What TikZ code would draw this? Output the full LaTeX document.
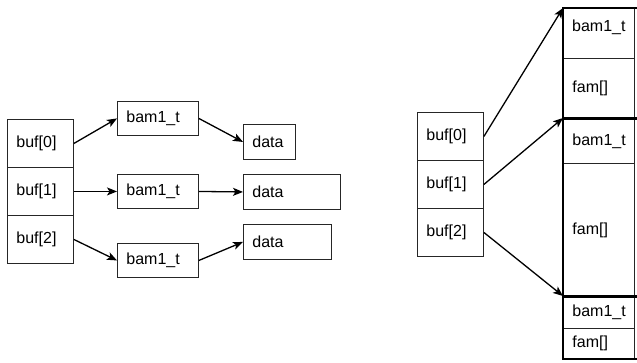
\documentclass[tikz,border=0pt]{standalone}
\usepackage{fontspec}
\setmainfont{Liberation Sans}
\usetikzlibrary{arrows.meta}
\begin{document}
\begin{tikzpicture}[x=1pt,y=-1pt,
  cell/.style={draw=black!85, line width=0.9pt, anchor=north west,
    inner xsep=9pt, inner ysep=0pt, align=left,
    font=\fontsize{16}{18}\selectfont},
  txt/.style={anchor=west, inner sep=0pt, font=\fontsize{16}{18}\selectfont},
  structbox/.style={draw=black, line width=2.6pt},
  arr/.style={line width=1.3pt, -{Stealth[length=10pt,width=8pt,inset=2.5pt]}}]
\useasboundingbox (0,0) rectangle (637,362);

% left: array of pointers, each to its own bam1_t and data block
\node[cell, text width=48pt, minimum height=48pt] (b0) at (7,119) {buf[0]};
\node[cell, text width=48pt, minimum height=48pt] (b1) at (7,167) {buf[1]};
\node[cell, text width=48pt, minimum height=48pt] (b2) at (7,215) {buf[2]};

\node[cell, text width=63pt, minimum height=34pt] (t0) at (117,101) {bam1\_t};
\node[cell, text width=63pt, minimum height=34pt] (t1) at (117,174) {bam1\_t};
\node[cell, text width=63pt, minimum height=34pt] (t2) at (117,243) {bam1\_t};

\node[cell, text width=34pt, minimum height=35pt] (d0) at (243,124) {data};
\node[cell, text width=79pt, minimum height=35pt] (d1) at (243,174) {data};
\node[cell, text width=70pt, minimum height=35pt] (d2) at (243,224) {data};

\draw[arr] (b0.east) -- (t0.west);
\draw[arr] (b1.east) -- (t1.west);
\draw[arr] (b2.east) -- (t2.west);
\draw[arr] (t0.east) -- (d0.west);
\draw[arr] (t1.east) -- (d1.west);
\draw[arr] (t2.east) -- (d2.west);

% right: array of pointers into one contiguous block of records
\node[cell, text width=48pt, minimum height=48pt] (r0) at (417,112) {buf[0]};
\node[cell, text width=48pt, minimum height=48pt] (r1) at (417,160) {buf[1]};
\node[cell, text width=48pt, minimum height=48pt] (r2) at (417,208) {buf[2]};

\node[cell, text width=53pt, minimum height=50pt] (s0a) at (563,8) {};
\node[txt] (s0at) at (572,27) {bam1\_t};
\node[cell, text width=53pt, minimum height=60pt] (s0b) at (563,58) {fam[]};
\node[cell, text width=53pt, minimum height=45pt] (s1a) at (563,118) {bam1\_t};
\node[cell, text width=53pt, minimum height=133pt] (s1b) at (563,163) {fam[]};
\node[cell, text width=53pt, minimum height=32pt] (s2a) at (563,296) {bam1\_t};
\node[cell, text width=53pt, minimum height=30pt] (s2b) at (563,328) {fam[]};

% heavy outlines of the three records; their right sides run past the edge
\draw[structbox] (s0a.north west) rectangle ([xshift=6pt]s0b.south east);
\draw[structbox] (s1a.north west) rectangle ([xshift=6pt]s1b.south east);
\draw[structbox] (s2a.north west) rectangle ([xshift=6pt]s2b.south east);

\draw[arr] (r0.east) -- (s0a.north west);
\draw[arr] (r1.east) -- (s1a.north west);
\draw[arr] (r2.east) -- (s2a.north west);
\end{tikzpicture}
\end{document}
